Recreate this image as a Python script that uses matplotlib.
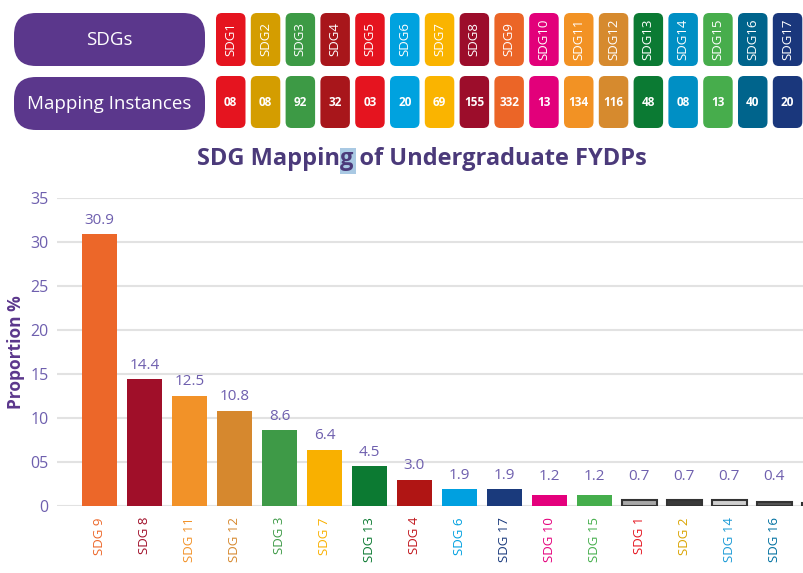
import matplotlib
matplotlib.use('Agg')
import matplotlib.pyplot as plt
from matplotlib.patches import FancyBboxPatch, Rectangle

plt.rcParams['font.family'] = ['Open Sans', 'DejaVu Sans']

# header table: SDG order 1..17
header_goals = ['SDG1', 'SDG2', 'SDG3', 'SDG4', 'SDG5', 'SDG6', 'SDG7', 'SDG8', 'SDG9',
                'SDG10', 'SDG11', 'SDG12', 'SDG13', 'SDG14', 'SDG15', 'SDG16', 'SDG17']
header_counts = ['08', '08', '92', '32', '03', '20', '69', '155', '332',
                 '13', '134', '116', '48', '08', '13', '40', '20']
header_colors = ['#e5141f', '#d49d00', '#3d9a45', '#a8161b', '#e5141f', '#00a2df', '#fab400',
                 '#9c0d2b', '#eb6527', '#e2007a', '#f29224', '#d68a2e', '#0b7a33', '#008fc4',
                 '#47ad4c', '#00648c', '#1a377c']

# bar chart, sorted as in the picture (last bar, SDG 5, runs off the right edge)
bar_labels = ['SDG 9', 'SDG 8', 'SDG 11', 'SDG 12', 'SDG 3', 'SDG 7', 'SDG 13', 'SDG 4', 'SDG 6',
              'SDG 17', 'SDG 10', 'SDG 15', 'SDG 1', 'SDG 2', 'SDG 14', 'SDG 16', '']
bar_values = [30.9, 14.4, 12.5, 10.8, 8.6, 6.4, 4.5, 3.0, 1.9, 1.9, 1.2, 1.2, 0.7, 0.7, 0.7, 0.4, 0.3]
bar_colors = ['#ec6729', '#a00f29', '#f29228', '#d6882e', '#3e9a47', '#f9b000', '#0c7a32',
              '#b01514', '#00a0e0', '#1a3a7c', '#e4007c', '#45ae4c',
              '#a8a8a8', '#3a3a3a', '#cfcfcf', '#555555', '#3a3a3a']
bar_edges = ['none'] * 12 + ['#333333'] * 5
tick_colors = ['#ec6729', '#a00f29', '#f29228', '#d6882e', '#3e9a47', '#f9b000', '#0c7a32',
               '#c0141b', '#00a0e0', '#1a3a7c', '#e4007c', '#45ae4c',
               '#e5141f', '#d9a300', '#1a9ad6', '#0070a0', '#e5141f']
yticks = [0, 5, 10, 15, 20, 25, 30, 35]
ytick_labels = ['0', '05', '10', '15', '20', '25', '30', '35']

purple = '#5b378c'
lavender = '#6e5fae'

fig = plt.figure(figsize=(8.04, 5.73), dpi=100)

# overlay in pixel coordinates for the header table
hdr = fig.add_axes([0, 0, 1, 1])
hdr.set_xlim(0, 804)
hdr.set_ylim(573, 0)
hdr.axis('off')

for y0, txt in [(13, 'SDGs'), (77, 'Mapping Instances')]:
    hdr.add_patch(FancyBboxPatch((14, y0), 191, 53,
                                 boxstyle='round,pad=0,rounding_size=22', fc=purple, ec='none'))
    hdr.text(14 + 191 / 2, y0 + 27, txt, color='white', fontsize=13.5,
             ha='center', va='center')

for i, (g, n, c) in enumerate(zip(header_goals, header_counts, header_colors)):
    x0 = 216 + i * 34.8
    hdr.add_patch(FancyBboxPatch((x0, 13), 29.5, 53,
                                 boxstyle='round,pad=0,rounding_size=6', fc=c, ec='none'))
    hdr.add_patch(FancyBboxPatch((x0, 76), 29.5, 52,
                                 boxstyle='round,pad=0,rounding_size=6', fc=c, ec='none'))
    hdr.text(x0 + 14.75, 39, g, color='white', fontsize=9.5, rotation=90,
             ha='center', va='center')
    hdr.text(x0 + 14.75, 103, n, color='white', fontsize=8.5, fontweight='bold',
             ha='center', va='center')

# little selection highlight seen in the title
hdr.add_patch(Rectangle((340, 148), 16, 26, fc='#a9c9e3', ec='none'))
hdr.text(422, 159, 'SDG Mapping of Undergraduate FYDPs', color='#4b3a7a',
         fontsize=17, fontweight='bold', ha='center', va='center')

# main bar chart
ax = fig.add_axes([57 / 804, 67 / 573, (850 - 57) / 804, 308 / 573])
x = list(range(len(bar_values)))
ax.bar(x, bar_values, width=0.78, color=bar_colors, zorder=3,
       edgecolor=bar_edges, linewidth=1.5)
ax.set_xlim(-0.944, 16.68)
ax.set_ylim(0, 35)
ax.set_yticks(yticks)
ax.set_yticklabels(ytick_labels, color=lavender, fontsize=11.5)
ax.set_xticks(x)
ax.set_xticklabels(bar_labels, rotation=90, fontsize=9.5, va='top')
for lbl, c in zip(ax.get_xticklabels(), tick_colors):
    lbl.set_color(c)
ax.tick_params(length=0, pad=8)
ax.tick_params(axis='y', pad=6)
ax.grid(axis='y', color='#e2e2e2', linewidth=1.5, zorder=0)
for s in ax.spines.values():
    s.set_visible(False)

# value labels (the SDG 5 one falls outside the picture, so skip it)
for xi, v in zip(x[:-1], bar_values[:-1]):
    ax.text(xi, max(v + 1.6, 3.4), f'{v:.1f}', color=lavender, fontsize=11,
            ha='center', va='center')

ax.set_ylabel('Proportion %', color=purple, fontsize=12.5, fontweight='bold', labelpad=4)

fig.savefig('out.png', dpi=100)
